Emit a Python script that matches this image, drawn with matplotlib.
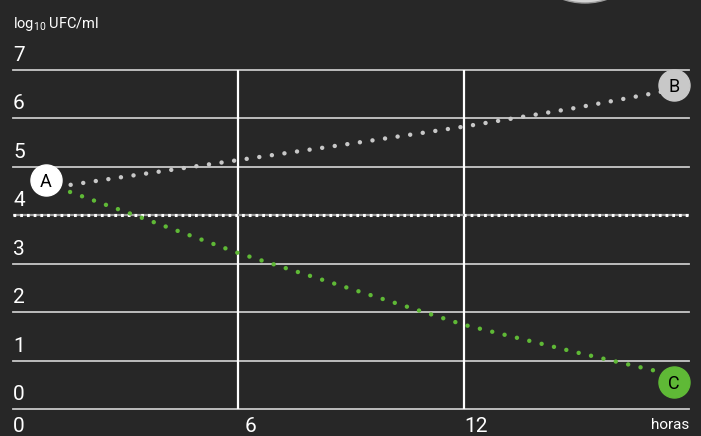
import matplotlib
matplotlib.use("Agg")
import matplotlib.pyplot as plt
import matplotlib.patches as mpatches

# datos
horas_b = [1.2, 3, 6, 9, 12, 15, 17.4]
log_b = [4.59, 4.80, 5.14, 5.48, 5.83, 6.22, 6.57]
horas_c = [1.2, 3, 6, 9, 12, 15, 17.1]
log_c = [4.57, 4.07, 3.22, 2.48, 1.74, 1.17, 0.79]
limite = 4
y_ticks = [0, 1, 2, 3, 4, 5, 6, 7]
x_ticks = [0, 6, 12]
marcas = {"A": (0.88, 4.73), "B": (17.6, 6.69), "C": (17.6, 0.56)}

fondo = "#272727"
gris = "#c8c8c8"
verde = "#5fb936"
fuente = ["Roboto", "DejaVu Sans"]
plt.rcParams["font.family"] = fuente

W, H = 701, 436
fig = plt.figure(figsize=(W / 100, H / 100), dpi=100, facecolor=fondo)
ax = fig.add_axes([13 / W, (H - 409) / H, (689 - 13) / W, (409 - 70) / H])
ax.set_facecolor(fondo)
ax.set_xlim(0, 18)
ax.set_ylim(0, 7)
for s in ax.spines.values():
    s.set_visible(False)
ax.set_xticks([])
ax.set_yticks([])

# circulo decorativo arriba
fig.patches.append(mpatches.Ellipse((585 / W, (H + 65) / H), 136 / W, 136 / H,
                                    transform=fig.transFigure, facecolor="#d4d4d4",
                                    edgecolor="#9a9a9a", lw=1))

# grilla
for y in y_ticks:
    if y == limite:
        continue
    ax.axhline(y, color=gris, lw=1.3, zorder=1, clip_on=False)
for x in x_ticks[1:]:
    ax.axvline(x, color="white", lw=1.6, zorder=1)

# linea limite punteada
ax.axhline(limite, color="#9a9a9a", lw=1.6, zorder=2)
ax.axhline(limite, color="white", lw=2.2, linestyle=(0, (0.9, 1.3)), zorder=2)

# series punteadas
ax.plot(horas_b, log_b, color=gris, lw=3.2, linestyle=(0, (0.01, 2.85)),
        dash_capstyle="round", zorder=3)
ax.plot(horas_c, log_c, color=verde, lw=3.2, linestyle=(0, (0.01, 2.85)),
        dash_capstyle="round", zorder=3)

# marcas A B C
colores = {"A": "white", "B": gris, "C": verde}
for k, (x, y) in marcas.items():
    ax.scatter([x], [y], s=500, color=colores[k], zorder=5, clip_on=False)
    ax.text(x, y, k, color="black", fontsize=13, ha="center", va="center_baseline",
            zorder=6)

# etiquetas eje y
for y in y_ticks:
    ax.annotate(str(y), (0, y), xytext=(0, 5), textcoords="offset pixels",
                color="white", fontsize=15, ha="left", va="bottom")

# etiquetas eje x
for x in x_ticks:
    ha = "left" if x == 0 else "center"
    dx = 0 if x == 0 else 12
    ax.annotate(str(x), (x, 0), xytext=(dx, -8), textcoords="offset pixels",
                color="white", fontsize=15, ha=ha, va="top")
ax.annotate("horas", (18, 0), xytext=(0, -9), textcoords="offset pixels",
            color="white", fontsize=11, ha="right", va="top")

fig.text(13 / W, (H - 28) / H, r"log$_{\mathregular{10}}$ UFC/ml", color="white",
         fontsize=10.5, ha="left", va="baseline")

fig.savefig("out.png", dpi=100, facecolor=fondo)
